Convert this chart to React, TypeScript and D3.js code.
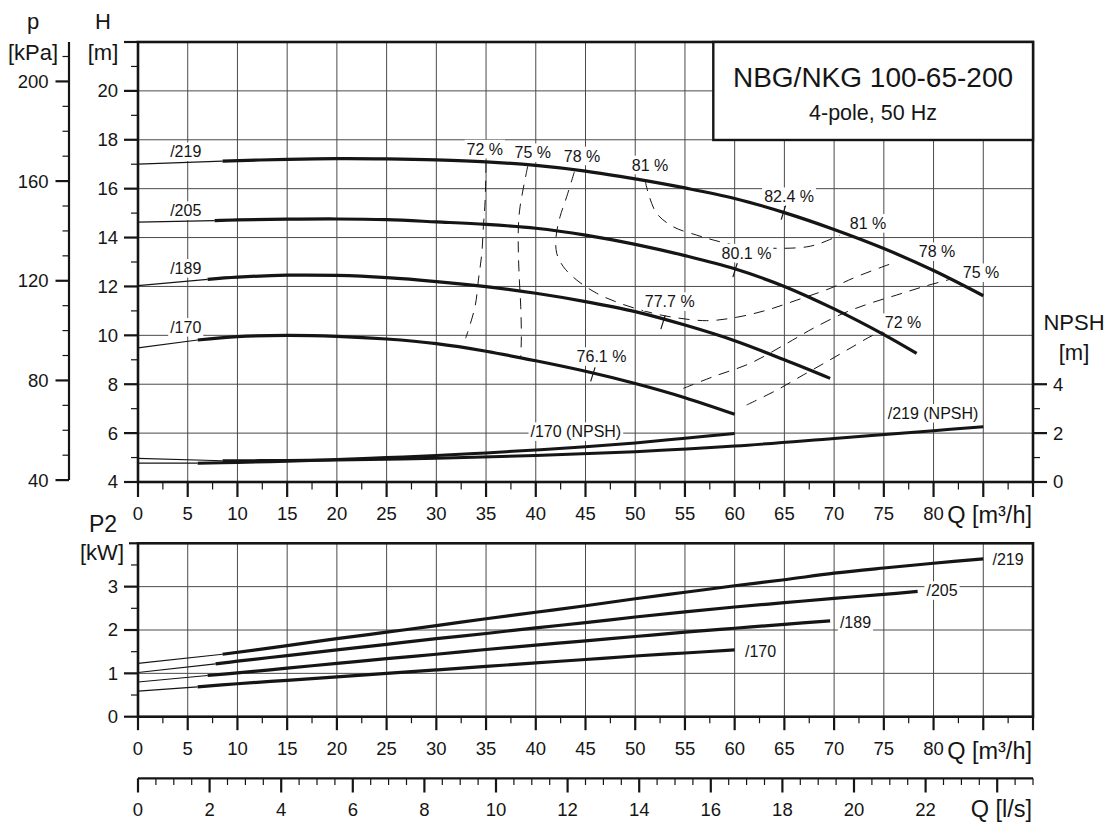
import React from 'react';
import * as d3 from 'd3';

const FONT = '"Liberation Sans", Arial, Helvetica, sans-serif';

// ---------- axis tick values ----------
const qTickLabels = [0, 5, 10, 15, 20, 25, 30, 35, 40, 45, 50, 55, 60, 65, 70, 75, 80];
const hTickLabels = [4, 6, 8, 10, 12, 14, 16, 18, 20];
const kpaTickLabels = [40, 80, 120, 160, 200];
const npshTickLabels = [0, 2, 4];
const p2TickLabels = [0, 1, 2, 3];
const lsTickLabels = [0, 2, 4, 6, 8, 10, 12, 14, 16, 18, 20, 22];

// ---------- Q-H curves ----------
const curveNames = ['/219', '/205', '/189', '/170'];
const headAtZero = [17.0, 14.63, 12.03, 9.49];
const q219 = [8.5, 15, 20, 25, 30, 35, 40, 45, 50, 55, 60, 65, 70, 75, 80, 85];
const h219 = [17.13, 17.2, 17.23, 17.22, 17.18, 17.1, 16.95, 16.72, 16.4, 16.03, 15.6, 15.02, 14.33, 13.55, 12.65, 11.62];
const q205 = [7.7, 10, 15, 20, 25, 30, 35, 40, 45, 50, 55, 60, 65, 70, 75, 78.3];
const h205 = [14.69, 14.72, 14.75, 14.76, 14.73, 14.64, 14.54, 14.38, 14.1, 13.72, 13.26, 12.72, 12.0, 11.08, 10.03, 9.26];
const q189 = [7, 10, 15, 20, 25, 30, 35, 40, 45, 50, 55, 60, 65, 69.6];
const h189 = [12.29, 12.38, 12.46, 12.45, 12.36, 12.2, 11.99, 11.72, 11.38, 10.97, 10.42, 9.78, 9.0, 8.24];
const q170 = [6, 10, 15, 20, 25, 30, 35, 40, 45, 50, 55, 60];
const h170 = [9.81, 9.95, 10.0, 9.96, 9.85, 9.66, 9.35, 8.96, 8.53, 8.03, 7.45, 6.77];

// ---------- NPSH curves ----------
const npshNames = ['/219 (NPSH)', '/170 (NPSH)'];
const npshAtZero = [0.97, 0.77];
const nq219 = [8.5, 15, 20, 30, 40, 50, 60, 70, 80, 85];
const n219 = [0.87, 0.88, 0.9, 0.97, 1.08, 1.24, 1.47, 1.78, 2.1, 2.26];
const nq170 = [6, 10, 15, 20, 25, 30, 35, 40, 45, 50, 55, 60];
const n170 = [0.77, 0.8, 0.85, 0.92, 1.0, 1.08, 1.19, 1.31, 1.44, 1.6, 1.79, 1.98];

// ---------- P2 curves ----------
const p2AtZero = [1.23, 1.02, 0.8, 0.59];
const pq219 = [8.5, 15, 20, 25, 30, 35, 40, 45, 50, 55, 60, 65, 70, 75, 80, 85];
const p219 = [1.44, 1.64, 1.8, 1.95, 2.1, 2.26, 2.41, 2.56, 2.72, 2.87, 3.02, 3.16, 3.31, 3.43, 3.54, 3.64];
const pq205 = [7.8, 10, 15, 20, 25, 30, 35, 40, 45, 50, 55, 60, 65, 70, 75, 78.4];
const p205 = [1.22, 1.28, 1.41, 1.54, 1.67, 1.8, 1.92, 2.05, 2.17, 2.3, 2.42, 2.53, 2.63, 2.73, 2.82, 2.89];
const pq189 = [7, 10, 15, 20, 25, 30, 35, 40, 45, 50, 55, 60, 65, 69.6];
const p189 = [0.95, 1.01, 1.12, 1.23, 1.34, 1.44, 1.55, 1.65, 1.75, 1.85, 1.95, 2.04, 2.13, 2.21];
const pq170 = [6, 10, 15, 20, 25, 30, 35, 40, 45, 50, 55, 60];
const p170 = [0.69, 0.76, 0.84, 0.92, 1.0, 1.08, 1.16, 1.24, 1.32, 1.4, 1.47, 1.54];

// ---------- iso-efficiency lines [Q, H] ----------
const eff72a = [[35.0, 17.1], [34.9, 15.46], [34.73, 14.44], [34.57, 13.35], [34.23, 12.26], [33.89, 11.17], [32.95, 9.88]];
const eff72b = [[61.21, 7.15], [64.23, 7.76], [66.9, 8.38], [69.26, 8.92], [71.6, 9.47], [73.94, 10.01], [74.95, 10.15]];
const eff75a = [[39.19, 16.92], [38.42, 15.26], [38.25, 14.44], [38.25, 13.35], [38.35, 12.26], [38.49, 11.17], [38.55, 9.94], [38.49, 9.12]];
const eff75b = [[54.84, 7.83], [57.85, 8.31], [61.54, 8.85], [65.24, 9.67], [67.91, 10.29], [70.93, 10.9], [73.61, 11.31], [76.3, 11.65], [78.97, 11.99], [81.66, 12.29]];
const eff78 = [[43.88, 16.69], [43.11, 15.67], [42.44, 14.85], [42.04, 14.03], [42.11, 13.35], [42.77, 12.81], [44.12, 12.26], [46.13, 11.72], [48.47, 11.31], [51.16, 10.97], [53.5, 10.76], [57.19, 10.6], [60.21, 10.74], [63.22, 11.03], [66.24, 11.44], [69.59, 11.92], [72.27, 12.4], [76.2, 13.0]];
const eff81 = [[50.99, 16.35], [51.32, 15.81], [52.16, 14.99], [53.83, 14.44], [56.18, 14.1], [57.85, 13.9], [60.54, 13.65], [64.56, 13.56], [67.25, 13.62], [68.58, 13.76], [70.6, 14.1]];
const effLabels = ['72 %', '75 %', '78 %', '81 %', '81 %', '78 %', '75 %', '72 %'];

// ---------- best efficiency points ----------
const bepLabels = ['82.4 %', '80.1 %', '77.7 %', '76.1 %'];
const bepQ = [64.9, 60.04, 52.8, 45.74];
const bepH = [15.02, 12.67, 10.54, 8.4];

// ---------- scales ----------
const xQ = d3.scaleLinear().domain([0, 90]).range([138, 1033]);
const yH = d3.scaleLinear().domain([4, 22]).range([482, 42]);
const yKPa = d3.scaleLinear().domain([4 * 9.81, 22 * 9.81]).range([482, 42]);
const yN = d3.scaleLinear().domain([0, 18]).range([482, 42]);
const yP2 = d3.scaleLinear().domain([0, 4]).range([716.7, 543.3]);
const xLs = d3.scaleLinear().domain([0, 25]).range([138, 1033]);

const INK = '#151515';
const GRID = '#4a4a4a';

let measureCtx: CanvasRenderingContext2D | null = null;
function textWidth(t: string, size: number) {
  if (typeof document !== 'undefined') {
    if (!measureCtx) measureCtx = document.createElement('canvas').getContext('2d');
    if (measureCtx) {
      measureCtx.font = `${size}px ${FONT}`;
      return measureCtx.measureText(t).width;
    }
  }
  return t.length * size * 0.55;
}

function BgLabel({ x, y, text, size = 16, anchor = 'middle' }: { x: number; y: number; text: string; size?: number; anchor?: string }) {
  const w = textWidth(text, size);
  const x0 = anchor === 'middle' ? x - w / 2 : anchor === 'end' ? x - w : x;
  return (
    <g>
      <rect x={x0 - 2} y={y - size * 0.58} width={w + 4} height={size * 1.16} fill="#fff" />
      <text x={x} y={y} dy="0.35em" textAnchor={anchor as any} fontSize={size} fill={INK}>{text}</text>
    </g>
  );
}

function zip(qs: number[], vs: number[]): [number, number][] {
  return qs.map((q, i) => [q, vs[i]]);
}

export default function App() {
  const lineH = d3.line<number[]>().x(d => xQ(d[0])).y(d => yH(d[1])).curve(d3.curveCatmullRom.alpha(0.5));
  const lineN = d3.line<number[]>().x(d => xQ(d[0])).y(d => yN(d[1])).curve(d3.curveCatmullRom.alpha(0.5));
  const lineP = d3.line<number[]>().x(d => xQ(d[0])).y(d => yP2(d[1])).curve(d3.curveCatmullRom.alpha(0.5));
  const straightH = d3.line<number[]>().x(d => xQ(d[0])).y(d => yH(d[1]));
  const straightN = d3.line<number[]>().x(d => xQ(d[0])).y(d => yN(d[1]));
  const straightP = d3.line<number[]>().x(d => xQ(d[0])).y(d => yP2(d[1]));

  const hCurves = [zip(q219, h219), zip(q205, h205), zip(q189, h189), zip(q170, h170)];
  const nCurves = [zip(nq219, n219), zip(nq170, n170)];
  const pCurves = [zip(pq219, p219), zip(pq205, p205), zip(pq189, p189), zip(pq170, p170)];
  const effLines = [eff72a, eff72b, eff75a, eff75b, eff78, eff81];

  // label anchors in data units
  const curveLabelAt: [number, number][] = [[4.8, 17.51], [4.8, 15.1], [4.8, 12.74], [4.8, 10.33]];
  const effLabelAt: [number, number][] = [[34.87, 17.62], [39.7, 17.47], [44.65, 17.34], [51.49, 16.97], [73.41, 14.58], [80.35, 13.42], [84.78, 12.56], [76.93, 10.52]];
  const bepLabelAt: [number, number][] = [[65.47, 15.67], [61.19, 13.36], [53.47, 11.38], [46.61, 9.13]];
  const npshLabelAt: [number, number][] = [[79.95, 2.81], [44.03, 2.06]];
  const p2LabelAt: [number, number][] = [[87.49, 3.63], [80.85, 2.91], [72.15, 2.18], [62.6, 1.5]];

  const gridQ = d3.range(5, 90, 5);
  const xTicks = d3.range(0, 90.001, 2.5);
  const hTicks = d3.range(4, 22.001, 1);
  const kpaTicks = d3.range(40, 210.001, 10);
  const p2Ticks = d3.range(0, 4.001, 0.5);
  const nTicks = d3.range(0, 4.001, 1);
  const lsTicks = d3.range(0, 25.001, 0.5);

  const L = 138, R = 1033;

  return (
    <svg width={1111} height={825} style={{ position: 'absolute', left: 0, top: 0, display: 'block', background: '#fff' }}
      fontFamily={FONT}>
      <rect x={0} y={0} width={1111} height={825} fill="#fff" />

      {/* ===== TOP CHART GRID ===== */}
      {gridQ.map(q => (
        <line key={'gv' + q} x1={xQ(q)} x2={xQ(q)} y1={yH(22)} y2={yH(4)} stroke={GRID} strokeWidth={1} />
      ))}
      {d3.range(6, 21, 2).map(h => (
        <line key={'gh' + h} x1={L} x2={R} y1={yH(h)} y2={yH(h)} stroke={GRID} strokeWidth={1} />
      ))}

      {/* iso-efficiency dashed lines */}
      {effLines.map((pts, i) => (
        <path key={'eff' + i} d={lineH(pts) || ''} fill="none" stroke={INK} strokeWidth={1} strokeDasharray="11 8" />
      ))}

      {/* labels with white backgrounds */}
      {curveNames.map((n, i) => (
        <BgLabel key={'cl' + i} x={xQ(curveLabelAt[i][0])} y={yH(curveLabelAt[i][1])} text={n} />
      ))}
      {effLabels.map((t, i) => (
        <BgLabel key={'el' + i} x={xQ(effLabelAt[i][0])} y={yH(effLabelAt[i][1])} text={t} />
      ))}
      {bepLabels.map((t, i) => (
        <BgLabel key={'bl' + i} x={xQ(bepLabelAt[i][0])} y={yH(bepLabelAt[i][1])} text={t} />
      ))}
      {npshNames.map((t, i) => (
        <BgLabel key={'nl' + i} x={xQ(npshLabelAt[i][0])} y={yN(npshLabelAt[i][1])} text={t} />
      ))}

      {/* Q-H curves: thin extrapolation + thick curve */}
      {hCurves.map((pts, i) => (
        <g key={'hc' + i}>
          <path d={straightH([[0, headAtZero[i]], pts[0]]) || ''} fill="none" stroke={INK} strokeWidth={1.2} />
          <path d={lineH(pts) || ''} fill="none" stroke={INK} strokeWidth={3.2} strokeLinecap="butt" />
        </g>
      ))}
      {/* BEP markers */}
      {bepQ.map((q, i) => {
        const x = xQ(q), y = yH(bepH[i]);
        return <line key={'bep' + i} x1={x - 2.2} y1={y + 7} x2={x + 2.2} y2={y - 7} stroke={INK} strokeWidth={1.2} />;
      })}
      {/* NPSH curves */}
      {nCurves.map((pts, i) => (
        <g key={'nc' + i}>
          <path d={straightN([[0, npshAtZero[i]], pts[0]]) || ''} fill="none" stroke={INK} strokeWidth={1.2} />
          <path d={lineN(pts) || ''} fill="none" stroke={INK} strokeWidth={3} />
        </g>
      ))}

      {/* top chart frame */}
      <rect x={L} y={yH(22)} width={R - L} height={yH(4) - yH(22)} fill="none" stroke={INK} strokeWidth={2.6} />

      {/* title box */}
      <rect x={713.3} y={yH(22)} width={R - 713.3} height={98} fill="#fff" stroke={INK} strokeWidth={2.4} />
      <text x={873} y={86.5} textAnchor="middle" fontSize={28} fill={INK}>NBG/NKG 100-65-200</text>
      <text x={873} y={120} textAnchor="middle" fontSize={21.5} fill={INK}>4-pole, 50 Hz</text>

      {/* H axis ticks */}
      {hTicks.map(h => {
        const major = Math.round(h) % 2 === 0;
        return <line key={'ht' + h} x1={major ? 124 : 131} x2={L} y1={yH(h)} y2={yH(h)} stroke={INK} strokeWidth={major ? 2.2 : 1.2} />;
      })}
      {hTickLabels.map(h => (
        <text key={'hl' + h} x={118} y={yH(h)} dy="0.35em" textAnchor="end" fontSize={18.5} fill={INK}>{h}</text>
      ))}
      <text x={103} y={29.3} textAnchor="middle" fontSize={22} fill={INK}>H</text>
      <text x={103} y={60} textAnchor="middle" fontSize={22} fill={INK}>[m]</text>

      {/* kPa axis */}
      <line x1={69} x2={69} y1={yH(22)} y2={yKPa(40)} stroke={INK} strokeWidth={2.2} />
      {kpaTicks.map(p => {
        const major = p % 40 === 0;
        return <line key={'kt' + p} x1={major ? 55.5 : 62.5} x2={69} y1={yKPa(p)} y2={yKPa(p)} stroke={INK} strokeWidth={major ? 2.2 : 1.2} />;
      })}
      {kpaTickLabels.map(p => (
        <text key={'kl' + p} x={48.5} y={yKPa(p)} dy="0.35em" textAnchor="end" fontSize={18.5} fill={INK}>{p}</text>
      ))}
      <text x={33} y={28.5} textAnchor="middle" fontSize={22} fill={INK}>p</text>
      <text x={33} y={60} textAnchor="middle" fontSize={22} fill={INK}>[kPa]</text>

      {/* NPSH axis */}
      {nTicks.map(n => {
        const major = n % 2 === 0;
        return <line key={'nt' + n} x1={R} x2={major ? 1047 : 1040} y1={yN(n)} y2={yN(n)} stroke={INK} strokeWidth={major ? 2.2 : 1.2} />;
      })}
      {npshTickLabels.map(n => (
        <text key={'nl2' + n} x={1053} y={yN(n)} dy="0.35em" textAnchor="start" fontSize={18.5} fill={INK}>{n}</text>
      ))}
      <text x={1074} y={330} textAnchor="middle" fontSize={22} fill={INK}>NPSH</text>
      <text x={1074} y={360} textAnchor="middle" fontSize={22} fill={INK}>[m]</text>

      {/* top chart Q axis */}
      {xTicks.map((q, i) => (
        <line key={'xt' + q} x1={xQ(q)} x2={xQ(q)} y1={yH(4)} y2={yH(4) + (i % 2 === 0 ? 15 : 7.5)} stroke={INK} strokeWidth={i % 2 === 0 ? 2.2 : 1.2} />
      ))}
      {qTickLabels.map(q => (
        <text key={'xl' + q} x={xQ(q)} y={520} textAnchor="middle" fontSize={18.5} fill={INK}>{q}</text>
      ))}
      <text x={1032} y={523} textAnchor="end" fontSize={23.5} fill={INK}>Q [m³/h]</text>

      {/* ===== P2 CHART ===== */}
      {gridQ.map(q => (
        <line key={'pgv' + q} x1={xQ(q)} x2={xQ(q)} y1={yP2(4)} y2={yP2(0)} stroke={GRID} strokeWidth={1} />
      ))}
      {[1, 2, 3].map(p => (
        <line key={'pgh' + p} x1={L} x2={R} y1={yP2(p)} y2={yP2(p)} stroke={GRID} strokeWidth={1} />
      ))}
      {curveNames.map((n, i) => (
        <BgLabel key={'pl' + i} x={xQ(p2LabelAt[i][0])} y={yP2(p2LabelAt[i][1])} text={n} />
      ))}
      {pCurves.map((pts, i) => (
        <g key={'pc' + i}>
          <path d={straightP([[0, p2AtZero[i]], pts[0]]) || ''} fill="none" stroke={INK} strokeWidth={1.2} />
          <path d={lineP(pts) || ''} fill="none" stroke={INK} strokeWidth={3.2} />
        </g>
      ))}
      <rect x={L} y={yP2(4)} width={R - L} height={yP2(0) - yP2(4)} fill="none" stroke={INK} strokeWidth={2.6} />
      {p2Ticks.map((p, i) => {
        const major = i % 2 === 0;
        return <line key={'pt' + p} x1={major ? (p === 4 ? 129 : 124) : 131} x2={L} y1={yP2(p)} y2={yP2(p)} stroke={INK} strokeWidth={major ? 2.2 : 1.2} />;
      })}
      {p2TickLabels.map(p => (
        <text key={'ptl' + p} x={118} y={yP2(p)} dy="0.35em" textAnchor="end" fontSize={18.5} fill={INK}>{p}</text>
      ))}
      <text x={103} y={531.5} textAnchor="middle" fontSize={23} fill={INK}>P2</text>
      <text x={102} y={560} textAnchor="middle" fontSize={22} fill={INK}>[kW]</text>
      {xTicks.map((q, i) => (
        <line key={'pxt' + q} x1={xQ(q)} x2={xQ(q)} y1={yP2(0)} y2={yP2(0) + (i % 2 === 0 ? 13.5 : 6.5)} stroke={INK} strokeWidth={i % 2 === 0 ? 2.2 : 1.2} />
      ))}
      {qTickLabels.map(q => (
        <text key={'pxl' + q} x={xQ(q)} y={755} textAnchor="middle" fontSize={18.5} fill={INK}>{q}</text>
      ))}
      <text x={1032} y={758.5} textAnchor="end" fontSize={23.5} fill={INK}>Q [m³/h]</text>

      {/* ===== l/s AXIS ===== */}
      <line x1={L} x2={R} y1={778.3} y2={778.3} stroke={INK} strokeWidth={2.2} />
      {lsTicks.map((v, i) => {
        const major = i % 4 === 0;
        return <line key={'lt' + v} x1={xLs(v)} x2={xLs(v)} y1={778.3} y2={major ? 792.5 : 785} stroke={INK} strokeWidth={major ? 2.2 : 1.2} />;
      })}
      {lsTickLabels.map(v => (
        <text key={'ll' + v} x={xLs(v)} y={815.5} textAnchor="middle" fontSize={18.5} fill={INK}>{v}</text>
      ))}
      <text x={1032} y={817} textAnchor="end" fontSize={23.5} fill={INK}>Q [l/s]</text>
    </svg>
  );
}
